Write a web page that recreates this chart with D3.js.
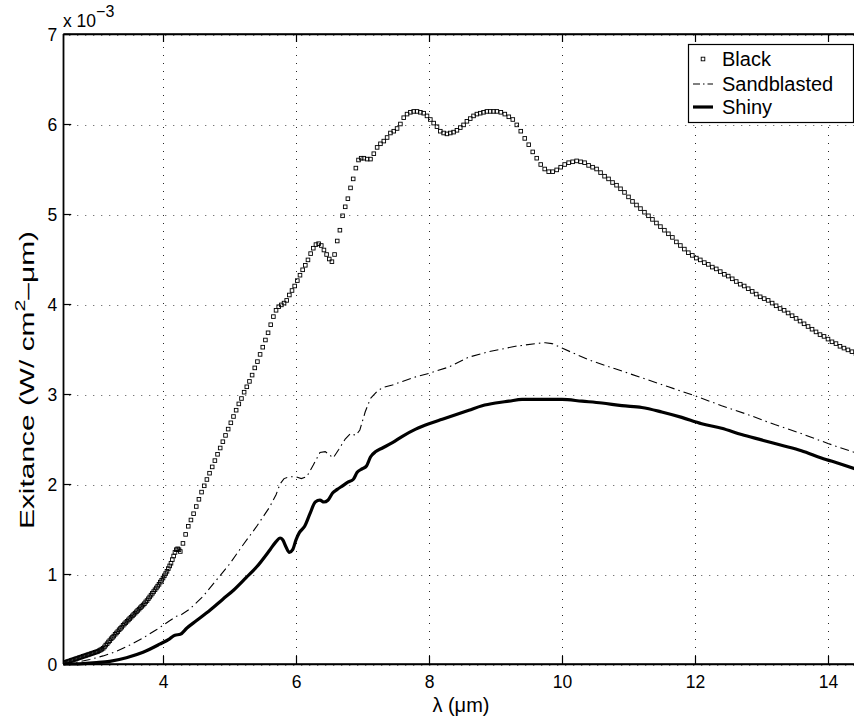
<!DOCTYPE html>
<html><head><meta charset="utf-8">
<script src="https://cdn.jsdelivr.net/npm/d3@7"></script>
<style>
html,body{margin:0;padding:0;background:#fff;}
svg{display:block;font-family:"Liberation Sans",Arial,Helvetica,sans-serif;}
</style></head>
<body>
<svg id="chart" width="854" height="717"></svg>
<script>
// ---------- data (values in units of 1e-3 W/cm^2-um) ----------
const xTicks = [4, 6, 8, 10, 12, 14];
const yTicks = [0, 1, 2, 3, 4, 5, 6, 7];
const seriesNames = ["Black", "Sandblasted", "Shiny"];

const blackX = [
2.50,2.52,2.54,2.56,2.58,2.60,2.62,2.64,2.66,2.68,2.70,2.72,2.74,2.76,2.78,2.80,2.82,2.84,2.86,2.88,
2.90,2.92,2.94,2.96,2.98,3.00,3.02,3.04,3.06,3.08,3.10,3.12,3.14,3.16,3.18,3.20,3.22,3.24,3.26,3.28,
3.30,3.32,3.34,3.36,3.38,3.40,3.42,3.44,3.46,3.48,3.50,3.52,3.54,3.56,3.58,3.60,3.62,3.64,3.66,3.68,
3.70,3.72,3.74,3.76,3.78,3.80,3.82,3.84,3.86,3.88,3.90,3.92,3.94,3.96,3.98,4.00,4.02,4.04,4.06,4.08,
4.10,4.12,4.14,4.16,4.18,4.20,4.22,4.24,
4.26,4.30,4.34,4.38,4.42,4.46,4.50,4.54,4.58,4.62,4.66,4.70,4.74,4.78,4.82,4.86,4.90,4.94,4.98,5.02,
5.06,5.10,5.14,5.18,5.22,5.26,5.30,5.34,5.38,5.42,5.46,5.50,5.54,5.58,5.62,5.66,5.70,5.74,5.78,5.82,
5.86,5.90,5.94,5.98,6.02,6.06,6.10,6.14,6.18,6.22,6.26,6.30,6.34,6.38,6.42,6.46,6.50,6.54,6.58,6.62,
6.66,6.70,6.74,6.78,6.82,6.86,6.90,6.94,6.98,
7.02,7.07,7.12,7.17,7.22,7.27,7.32,7.37,7.42,7.47,7.52,7.57,7.62,7.67,7.72,7.77,7.82,7.87,7.92,7.97,
8.02,8.07,8.12,8.17,8.22,8.27,8.32,8.37,8.42,8.47,8.52,8.57,8.62,8.67,8.72,8.77,8.82,8.87,8.92,8.97,
9.02,9.08,9.14,9.20,9.26,9.32,9.38,9.44,9.50,9.56,9.62,9.68,9.74,9.80,9.86,9.92,9.98,10.04,10.10,10.16,
10.22,10.28,10.34,10.40,10.46,10.52,10.58,10.64,10.70,10.76,10.82,10.88,10.94,11.00,11.06,11.12,11.18,11.24,11.30,11.36,
11.42,11.48,11.54,11.60,11.66,11.72,11.78,11.84,11.90,11.96,12.02,12.08,12.14,12.20,12.26,12.32,12.38,12.44,12.50,12.56,
12.62,12.68,12.74,12.80,12.86,12.92,12.98,13.04,13.10,13.16,13.22,13.28,13.34,13.40,13.46,13.52,13.58,13.64,13.70,13.76,
13.82,13.88,13.94,14.00,14.06,14.12,14.18,14.24,14.30,14.36,14.42];
const blackY = [
0.010,0.015,0.020,0.025,0.030,0.035,0.040,0.045,0.050,0.055,0.060,0.065,0.070,0.075,0.080,0.085,0.090,0.095,0.100,0.105,
0.110,0.115,0.120,0.125,0.130,0.135,0.140,0.148,0.156,0.165,0.175,0.190,0.210,0.225,0.245,0.260,0.280,0.295,0.310,0.330,
0.345,0.360,0.380,0.395,0.410,0.430,0.445,0.460,0.475,0.490,0.505,0.520,0.535,0.550,0.565,0.580,0.595,0.610,0.625,0.640,
0.655,0.670,0.690,0.705,0.725,0.745,0.765,0.785,0.805,0.825,0.845,0.865,0.885,0.910,0.930,0.955,0.980,1.005,1.030,1.060,
1.090,1.120,1.160,1.200,1.240,1.270,1.280,1.270,
1.25,1.34,1.44,1.53,1.60,1.67,1.75,1.83,1.91,1.98,2.05,2.12,2.19,2.26,2.33,2.40,2.47,2.54,2.61,2.68,
2.75,2.82,2.89,2.95,3.02,3.08,3.14,3.21,3.29,3.36,3.44,3.52,3.60,3.68,3.77,3.86,3.93,3.97,3.99,4.01,
4.04,4.10,4.15,4.20,4.26,4.32,4.38,4.43,4.49,4.56,4.62,4.66,4.67,4.65,4.60,4.55,4.50,4.47,4.55,4.70,
4.82,4.98,5.08,5.17,5.29,5.39,5.51,5.60,5.62,
5.62,5.61,5.61,5.67,5.74,5.78,5.81,5.85,5.90,5.92,5.95,6.00,6.07,6.11,6.13,6.14,6.14,6.13,6.12,6.09,
6.05,6.01,5.97,5.92,5.90,5.89,5.90,5.91,5.93,5.96,5.99,6.03,6.06,6.09,6.11,6.12,6.13,6.14,6.14,6.14,
6.14,6.13,6.11,6.08,6.05,5.99,5.92,5.84,5.77,5.69,5.62,5.55,5.50,5.47,5.47,5.49,5.52,5.55,5.57,5.58,
5.59,5.58,5.57,5.54,5.52,5.50,5.46,5.42,5.39,5.35,5.32,5.28,5.24,5.19,5.14,5.10,5.06,5.02,4.98,4.94,
4.90,4.86,4.82,4.78,4.74,4.69,4.65,4.61,4.57,4.54,4.51,4.49,4.46,4.44,4.41,4.39,4.36,4.33,4.31,4.28,
4.25,4.22,4.20,4.17,4.14,4.11,4.08,4.06,4.04,4.01,3.98,3.95,3.93,3.90,3.87,3.84,3.81,3.78,3.75,3.72,
3.69,3.66,3.64,3.61,3.58,3.56,3.53,3.51,3.49,3.47,3.45];

const sandX = [2.5,2.7,2.9,3.1,3.3,3.5,3.7,3.9,4.1,4.2,4.28,4.4,4.6,4.8,5.0,5.2,5.4,5.6,5.7,5.76,
5.82,5.9,6.0,6.08,6.16,6.26,6.36,6.44,6.56,6.64,6.74,6.82,6.9,6.96,7.04,7.12,7.22,7.3,7.45,7.6,
7.8,8.0,8.3,8.6,8.9,9.3,9.6,9.75,9.85,10.0,10.4,10.8,11.2,11.6,12.0,12.4,12.8,13.2,13.6,14.0,14.4];
const sandY = [0.0,0.02,0.05,0.09,0.14,0.21,0.29,0.38,0.48,0.53,0.55,0.61,0.75,0.93,1.11,1.32,1.52,1.74,1.88,2.0,
2.06,2.08,2.08,2.06,2.08,2.21,2.35,2.36,2.29,2.38,2.5,2.56,2.54,2.6,2.8,2.95,3.03,3.07,3.1,3.14,
3.19,3.23,3.30,3.41,3.47,3.53,3.56,3.57,3.56,3.51,3.38,3.28,3.18,3.08,2.98,2.87,2.77,2.66,2.56,2.45,2.35];

const shinyX = [2.5,2.8,3.0,3.2,3.45,3.7,3.95,4.1,4.18,4.26,4.36,4.5,4.71,4.9,5.06,5.25,5.41,5.61,5.7,5.76,
5.8,5.85,5.9,5.95,6.0,6.05,6.13,6.21,6.29,6.36,6.42,6.48,6.55,6.62,6.7,6.78,6.86,6.92,7.0,7.06,
7.12,7.2,7.3,7.45,7.6,7.8,8.0,8.2,8.4,8.6,8.8,9.0,9.2,9.4,9.7,10.0,10.3,10.6,10.9,11.2,
11.5,11.8,12.1,12.4,12.7,13.0,13.3,13.6,13.9,14.2,14.4];
const shinyY = [0.0,0.005,0.015,0.03,0.07,0.13,0.22,0.28,0.32,0.33,0.40,0.48,0.60,0.72,0.82,0.96,1.08,1.27,1.36,1.40,
1.38,1.30,1.24,1.27,1.38,1.46,1.53,1.67,1.80,1.82,1.80,1.82,1.90,1.94,1.98,2.02,2.05,2.13,2.17,2.20,
2.30,2.36,2.40,2.46,2.53,2.61,2.67,2.72,2.77,2.82,2.87,2.90,2.92,2.94,2.94,2.94,2.92,2.90,2.87,2.85,
2.80,2.74,2.67,2.62,2.55,2.49,2.43,2.37,2.29,2.22,2.17];

// ---------- layout ----------
const W = 854, H = 717;
const pLeft = 63.25, pRight = 854.6, pTop = 34, pBottom = 664;
const font = '"Liberation Sans",Arial,Helvetica,sans-serif';

const svg = d3.select("#chart");
svg.append("rect").attr("width", W).attr("height", H).attr("fill", "#fff");

const x = d3.scaleLinear().domain([2.5, 14.4]).range([pLeft, pRight]);
const y = d3.scaleLinear().domain([0, 7]).range([pBottom, pTop]);

svg.append("defs").append("clipPath").attr("id", "clip")
  .append("rect").attr("x", pLeft).attr("y", pTop - 3).attr("width", pRight - pLeft).attr("height", pBottom - pTop + 6);

// grid (dotted)
const grid = svg.append("g").attr("stroke", "#000").attr("stroke-width", 1)
  .attr("stroke-dasharray", "1,7").attr("fill", "none");
xTicks.forEach(t => {
  grid.append("line").attr("x1", Math.round(x(t)) + 0.5).attr("x2", Math.round(x(t)) + 0.5)
    .attr("y1", pBottom).attr("y2", pTop).attr("stroke-opacity", 0.85);
});
yTicks.forEach(t => {
  const yy = Math.round(y(t)) + 1.5;
  grid.append("line").attr("x1", pLeft + 6).attr("x2", W).attr("y1", yy).attr("y2", yy)
    .attr("stroke-opacity", 0.7);
});

// axes
const xAxis = d3.axisBottom(x).tickValues(xTicks).tickSizeInner(-8).tickSizeOuter(0).tickPadding(12)
  .tickFormat(d3.format("d"));
const gx = svg.append("g").attr("transform", `translate(0,${pBottom})`).call(xAxis);
const xAxisTop = d3.axisTop(x).tickValues(xTicks).tickSizeInner(-8).tickSizeOuter(0).tickFormat("");
const gxt = svg.append("g").attr("transform", `translate(0,${pTop})`).call(xAxisTop);
const yAxis = d3.axisLeft(y).tickValues(yTicks).tickSizeInner(-8).tickSizeOuter(0).tickPadding(6)
  .tickFormat(d3.format("d"));
const gy = svg.append("g").attr("transform", `translate(${pLeft},0)`).call(yAxis);
[gx, gxt, gy].forEach(g => {
  g.select(".domain").attr("stroke", "#000").attr("stroke-width", 1.3);
  g.selectAll(".tick line").attr("stroke", "#000").attr("stroke-width", 1.2);
  g.selectAll("text").attr("fill", "#000").attr("font-family", font).attr("font-size", 17.5);
});
gy.selectAll("text").attr("dy", "0.36em");

// curves
const plot = svg.append("g").attr("clip-path", "url(#clip)");
const line = d3.line().x(d => x(d[0])).y(d => y(d[1]));

const sandData = sandX.map((v, i) => [v, sandY[i]]);
plot.append("path").datum(sandData).attr("d", line).attr("fill", "none")
  .attr("stroke", "#000").attr("stroke-width", 1.1).attr("stroke-dasharray", "9,4,1.5,4");

const shinyData = shinyX.map((v, i) => [v, shinyY[i]]);
plot.append("path").datum(shinyData).attr("d", d3.line().curve(d3.curveMonotoneX).x(d => x(d[0])).y(d => y(d[1])))
  .attr("fill", "none").attr("stroke", "#000").attr("stroke-width", 3.2).attr("stroke-linejoin", "round");

const blackData = blackX.map((v, i) => [v, blackY[i]]);
const ms = 3.6;
plot.append("g").selectAll("rect").data(blackData).join("rect")
  .attr("x", d => x(d[0]) - ms / 2).attr("y", d => y(d[1]) - ms / 2)
  .attr("width", ms).attr("height", ms).attr("fill", "none")
  .attr("stroke", "#000").attr("stroke-width", 0.9);

// box lines
svg.append("line").attr("x1", pLeft).attr("x2", W).attr("y1", pTop).attr("y2", pTop).attr("stroke", "#000").attr("stroke-width", 1.3);
svg.append("line").attr("x1", pLeft).attr("x2", W).attr("y1", pBottom).attr("y2", pBottom).attr("stroke", "#000").attr("stroke-width", 1.3);
svg.append("line").attr("x1", pLeft).attr("x2", pLeft).attr("y1", pTop).attr("y2", pBottom).attr("stroke", "#000").attr("stroke-width", 1.3);

// exponent label
const expo = svg.append("text").attr("x", 63).attr("y", 27).attr("font-family", font).attr("font-size", 17.5).attr("fill", "#000");
expo.append("tspan").text("x 10");
expo.append("tspan").attr("dy", -10).attr("font-size", 16).text("−3");

// axis titles
svg.append("text").attr("x", (pLeft + pRight) / 2 + 2).attr("y", 712).attr("text-anchor", "middle")
  .attr("font-family", font).attr("font-size", 20).attr("fill", "#000").text("λ (μm)");

const yl = svg.append("text").attr("transform", "translate(34,380) rotate(-90)").attr("text-anchor", "middle")
  .attr("font-family", font).attr("font-size", 21).attr("fill", "#000")
  .attr("textLength", 298).attr("lengthAdjust", "spacingAndGlyphs");
yl.append("tspan").text("Exitance (W/ cm");
yl.append("tspan").attr("dy", -9).attr("font-size", 15).text("2");
yl.append("tspan").attr("dy", 9).text("–μm)");

// legend
const lg = svg.append("g");
const lx0 = 688, ly0 = 44, lw = 165, lh = 78;
lg.append("rect").attr("x", lx0 + 0.5).attr("y", ly0 + 0.5).attr("width", lw).attr("height", lh)
  .attr("fill", "#fff").attr("stroke", "#000").attr("stroke-width", 1.2);
const rows = [59, 84, 107];
const sx1 = 693, sx2 = 713;
lg.append("rect").attr("x", (sx1 + sx2) / 2 - ms / 2).attr("y", rows[0] - ms / 2).attr("width", ms).attr("height", ms)
  .attr("fill", "none").attr("stroke", "#000").attr("stroke-width", 0.9);
lg.append("line").attr("x1", sx1).attr("x2", sx2).attr("y1", rows[1]).attr("y2", rows[1])
  .attr("stroke", "#000").attr("stroke-width", 1.1).attr("stroke-dasharray", "7,3,1.5,3");
lg.append("line").attr("x1", sx1).attr("x2", sx2).attr("y1", rows[2]).attr("y2", rows[2])
  .attr("stroke", "#000").attr("stroke-width", 3.2);
seriesNames.forEach((n, i) => {
  lg.append("text").attr("x", 722).attr("y", rows[i]).attr("dy", "0.36em")
    .attr("font-family", font).attr("font-size", 20).attr("fill", "#000").text(n);
});
</script>
</body></html>
